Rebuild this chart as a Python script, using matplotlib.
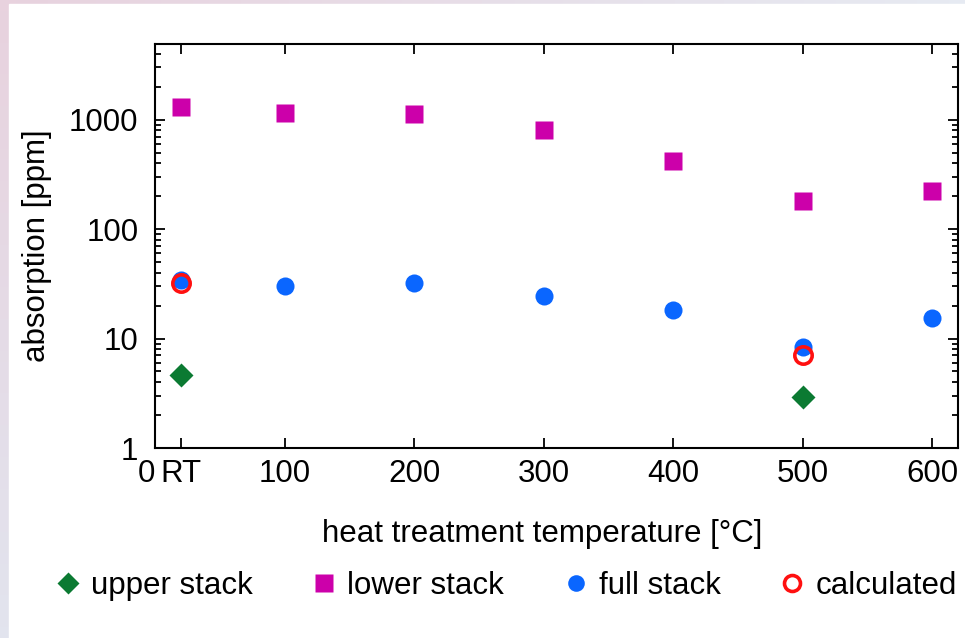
import matplotlib
matplotlib.use('Agg')
import matplotlib.pyplot as plt
import numpy as np

plt.rcParams['font.family'] = ['Liberation Sans', 'DejaVu Sans']

# data (RT plotted at 20 degC)
temps = [20, 100, 200, 300, 400, 500, 600]
lower_stack = [1290, 1160, 1130, 800, 415, 180, 222]
full_stack = [34, 30, 32, 24.5, 18.2, 8.3, 15.4]
upper_temps = [20, 500]
upper_stack = [4.6, 2.95]
calc_temps = [20, 500]
calculated = [32, 7.1]

xticks = [0, 20, 100, 200, 300, 400, 500, 600]
xticklabels = ['0', 'RT', '100', '200', '300', '400', '500', '600']

fig = plt.figure(figsize=(9.65, 6.38), dpi=100)

# faint coloured frame around the picture
bg = fig.add_axes([0, 0, 1, 1], zorder=-10)
tl = np.array([232, 210, 222]) / 255
tr = np.array([230, 234, 242]) / 255
bl = np.array([226, 228, 238]) / 255
u = np.linspace(0, 1, 60)[None, :, None]
v = np.linspace(0, 1, 60)[:, None, None]
grad = tl + (tr - tl) * u + (bl - tl) * v
bg.imshow(np.clip(grad, 0, 1), extent=[0, 1, 0, 1], aspect='auto', origin='upper')
bg.add_patch(plt.Rectangle((9 / 965, 0), 1, 1 - 4 / 638, color='white'))
bg.set_xlim(0, 1)
bg.set_ylim(0, 1)
bg.axis('off')

ax = fig.add_axes([155 / 965, 1 - 448 / 638, 803 / 965, 404 / 638])

ax.plot(upper_temps, upper_stack, 'D', color='#0b7a32', ms=12.5, mec='none', label='upper stack')
ax.plot(temps, lower_stack, 's', color='#cc00aa', ms=13.5, mec='none', label='lower stack')
ax.plot(temps, full_stack, 'o', color='#0a66ff', ms=13, mec='none', label='full stack')
ax.plot(calc_temps, calculated, 'o', mfc='none', mec='#ff1010', mew=2.6, ms=12.5, label='calculated')

ax.set_yscale('log')
ax.set_ylim(1, 4900)
ax.set_xlim(0, 620)
ax.set_xticks(xticks)
ax.set_xticklabels(xticklabels)
ax.get_xticklabels()[0].set_horizontalalignment('right')
ax.set_yticks([1, 10, 100, 1000])
ax.set_yticklabels(['1', '10', '100', '1000'])

for s in ax.spines.values():
    s.set_linewidth(1.5)
ax.tick_params(which='both', direction='in', top=True, right=True, width=1.3, labelsize=22.5, pad=8)
ax.tick_params(axis='y', pad=12)
ax.tick_params(which='major', length=7)
ax.tick_params(which='minor', length=4)
ax.tick_params(axis='x', which='minor', bottom=False, top=False)

ax.set_xlabel('heat treatment temperature [°C]', fontsize=22.5)
ax.set_ylabel('absorption [ppm]', fontsize=22.5)
ax.xaxis.set_label_coords(0.482, -0.176)
ax.yaxis.set_label_coords(-0.128, 0.5)

fig.legend(loc='center', bbox_to_anchor=(0.526, 0.082), ncol=4, frameon=False,
           fontsize=22.5, markerscale=0.92, handlelength=0.6, handletextpad=0.43,
           columnspacing=2.0)

fig.savefig('out.png', dpi=100)
